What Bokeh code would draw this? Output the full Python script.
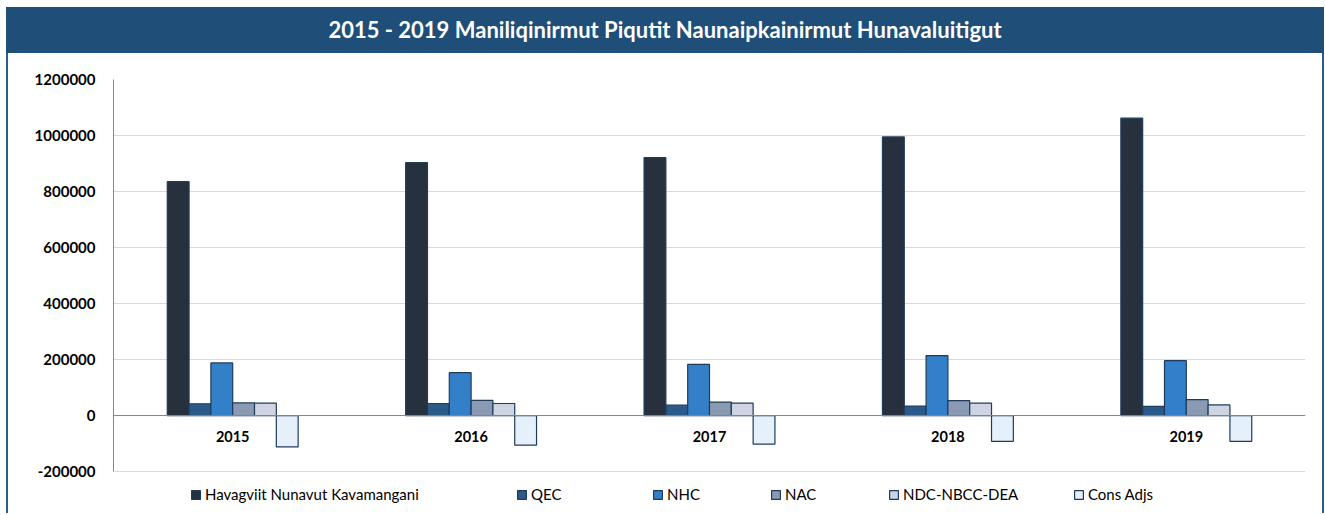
from bokeh.plotting import figure
from bokeh.models import (Range1d, FixedTicker, NumeralTickFormatter, Span, Legend,
                          LegendItem, Div, ColumnDataSource)
from bokeh.transform import dodge
from bokeh.layouts import column, row
from bokeh.core.properties import value
from bokeh.embed import file_html
from bokeh.resources import INLINE

# ---------------- data ----------------
years = ["2015", "2016", "2017", "2018", "2019"]
series_names = ["Havagviit Nunavut Kavamangani", "QEC", "NHC", "NAC",
                "NDC-NBCC-DEA", "Cons Adjs"]
hav = [835000, 903000, 921000, 995000, 1062000]
qec = [42000, 43000, 37000, 34000, 33000]
nhc = [188000, 153000, 183000, 214000, 196000]
nac = [45000, 54000, 48000, 53000, 57000]
ndc = [44000, 43000, 44000, 44000, 38000]
cons = [-112000, -106000, -102000, -92000, -92000]
y_ticks = [-200000, 0, 200000, 400000, 600000, 800000, 1000000, 1200000]
title_text = "2015 - 2019 Maniliqinirmut Piqutit Naunaipkainirmut Hunavaluitigut"

# ---------------- style ----------------
colors = ["#27303D", "#2A5A8A", "#3380C8", "#8A9AB2", "#CDD5E3", "#E6F0FA"]
FONT = "Lato"
TOTAL_W = 1318
BORDER = 2
FIG_W = TOTAL_W - 2 * BORDER
FIG_H = 460
bar_w = 0.0915
legend_x = [77, 403, 539, 657, 775, 960]
frame_border = "#2E5C8A"

title_div = Div(
    text=(f'<div style="width:{TOTAL_W}px;height:46px;line-height:46px;text-align:center;'
          f'color:#ffffff;font-family:{FONT}, sans-serif;font-weight:bold;font-size:22px;'
          f'background:#1F4E79;">{title_text}</div>'),
    width=TOTAL_W, height=46, margin=0)

p = figure(width=FIG_W, height=FIG_H, x_range=years,
           y_range=Range1d(-332000, 1200000),
           x_axis_location=None, output_backend="svg", toolbar_location=None,
           min_border_left=105, min_border_right=17, min_border_top=26,
           min_border_bottom=5, margin=0)
p.outline_line_color = None
p.background_fill_color = "white"
p.border_fill_color = "white"

p.xgrid.visible = False
p.yaxis.ticker = FixedTicker(ticks=y_ticks)
p.yaxis.formatter = NumeralTickFormatter(format="0")
p.yaxis.bounds = (y_ticks[0], y_ticks[-1])
p.yaxis.axis_line_color = "#868686"
p.yaxis.major_tick_line_color = None
p.yaxis.minor_tick_line_color = None
p.yaxis.major_label_standoff = 12
p.yaxis.major_label_text_font = FONT
p.yaxis.major_label_text_font_style = "bold"
p.yaxis.major_label_text_font_size = "15px"
p.yaxis.major_label_text_color = "#000000"
p.ygrid.grid_line_color = "#D9D9D9"
p.ygrid.grid_line_width = 1

p.add_layout(Span(location=0, dimension="width", line_color="#868686", line_width=1))

all_vals = [hav, qec, nhc, nac, ndc, cons]
renderers = []
for i, (vals, c) in enumerate(zip(all_vals, colors)):
    src = ColumnDataSource(dict(x=years, top=vals))
    r = p.vbar(x=dodge("x", (i - 2.5) * bar_w, range=p.x_range), top="top", bottom=0,
               width=bar_w, fill_color=c, line_color="#1F3B5C", line_width=1.2,
               source=src)
    renderers.append(r)

p.text(x=years, y=[0] * len(years), text=years, text_align="center",
       text_baseline="middle", y_offset=21, text_font=value(FONT),
       text_font_style="bold", text_font_size="14.5px", text_color="#000000")

for name, r, lx in zip(series_names, renderers, legend_x):
    leg = Legend(items=[LegendItem(label=name, renderers=[r])], location=(lx, 5),
                 orientation="horizontal", padding=0, margin=0, spacing=0,
                 glyph_width=11, glyph_height=11, label_height=14, label_standoff=4,
                 label_text_font=FONT, label_text_font_size="15px",
                 label_text_color="#000000", border_line_color=None,
                 background_fill_alpha=0)
    p.add_layout(leg)

left_bar = Div(text="", width=BORDER, height=FIG_H, margin=0,
               styles={"background-color": frame_border})
right_bar = Div(text="", width=BORDER, height=FIG_H, margin=0,
                styles={"background-color": frame_border})

layout = column(title_div, row(left_bar, p, right_bar, spacing=0), spacing=0,
                margin=(7, 0, 0, 6))
open("out.html", "w").write(file_html(layout, INLINE))
